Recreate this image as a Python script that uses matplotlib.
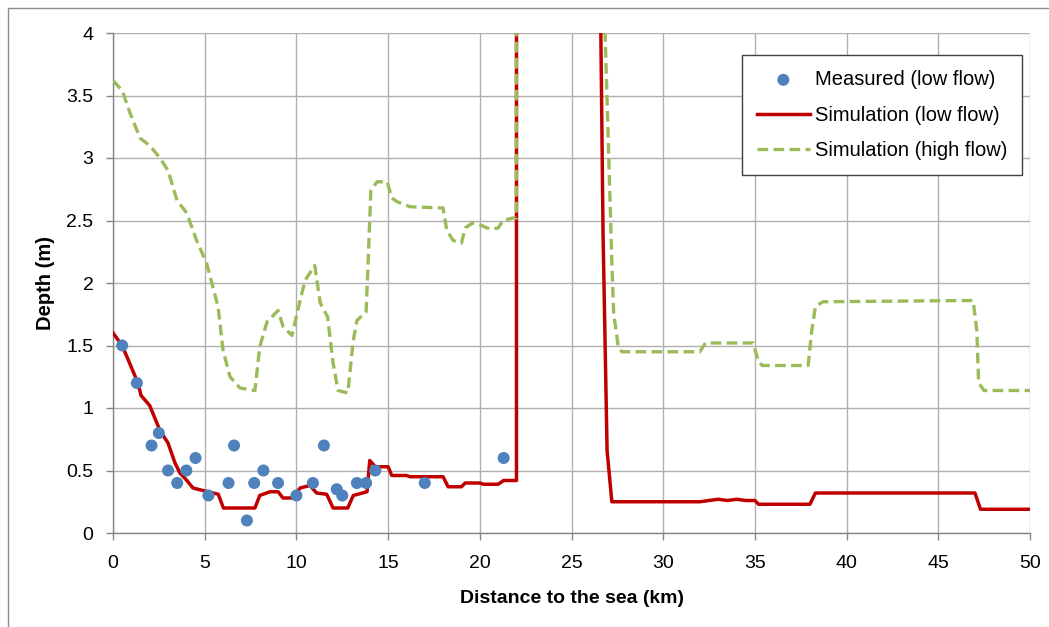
import matplotlib
matplotlib.use("Agg")
import matplotlib.pyplot as plt
from matplotlib.patches import Rectangle

# Measured (low flow)
meas_x = [0.5, 1.3, 2.1, 2.5, 3.0, 3.5, 4.0, 4.5, 5.2, 6.3, 6.6, 7.3, 7.7, 8.2, 9.0,
          10.0, 10.9, 11.5, 12.2, 12.5, 13.3, 13.8, 14.3, 17.0, 21.3]
meas_y = [1.5, 1.2, 0.7, 0.8, 0.5, 0.4, 0.5, 0.6, 0.3, 0.4, 0.7, 0.1, 0.4, 0.5, 0.4,
          0.3, 0.4, 0.7, 0.35, 0.3, 0.4, 0.4, 0.5, 0.4, 0.6]

# Simulation (low flow)
low_x = [0, 0.5, 1.36, 1.53, 2.0, 2.56, 3.0, 3.38, 3.65, 4.03, 4.36, 4.9, 5.74, 6.02,
         7.74, 8.0, 8.56, 9.0, 9.27, 9.8, 10.2, 10.74, 11.1, 11.65, 12.0, 12.8, 13.1,
         13.85, 14.0, 14.3, 15.0, 15.2, 16.0, 16.2, 18.0, 18.27, 19.0, 19.2, 20.0, 20.2,
         21.0, 21.3, 22.0, 22.0, 26.5, 26.6, 26.72, 26.94, 27.2, 32.0, 32.5, 33.0, 33.5,
         34.0, 34.5, 35.0, 35.2, 38.0, 38.3, 47.0, 47.3, 50.0]
low_y = [1.6, 1.5, 1.2, 1.1, 1.02, 0.82, 0.72, 0.56, 0.48, 0.42, 0.36, 0.34, 0.31, 0.2,
         0.2, 0.3, 0.33, 0.33, 0.28, 0.28, 0.36, 0.38, 0.32, 0.31, 0.2, 0.2, 0.3,
         0.33, 0.58, 0.53, 0.53, 0.46, 0.46, 0.45, 0.45, 0.37, 0.37, 0.4, 0.4, 0.39,
         0.39, 0.42, 0.42, 6.0, 6.0, 4.0, 2.4, 0.66, 0.25, 0.25, 0.26, 0.27, 0.26,
         0.27, 0.26, 0.26, 0.23, 0.23, 0.32, 0.32, 0.19, 0.19]

# Simulation (high flow)
high_x = [0, 0.5, 0.93, 1.47, 2.0, 2.56, 3.0, 3.49, 4.02, 4.56, 5.1, 5.73, 6.0, 6.38,
          6.92, 7.74, 8.0, 8.4, 9.0, 9.28, 9.76, 10.2, 10.47, 11.0, 11.3, 11.7, 12.0,
          12.27, 12.8, 13.1, 13.3, 13.8, 13.9, 14.06, 14.4, 14.95, 15.2, 15.5, 16.2,
          18.0, 18.2, 18.55, 19.0, 19.2, 19.6, 20.1, 20.56, 21.0, 21.27, 21.8, 22.0,
          22.0, 26.7, 26.83, 26.99, 27.2, 27.3, 27.55, 27.75, 32.0, 32.3, 34.9, 35.2,
          35.4, 37.9, 38.1, 38.3, 38.7, 46.9, 47.1, 47.2, 47.5, 50.0]
high_y = [3.62, 3.54, 3.36, 3.16, 3.1, 3.0, 2.9, 2.66, 2.56, 2.34, 2.16, 1.81, 1.46, 1.25,
          1.16, 1.14, 1.49, 1.69, 1.78, 1.65, 1.58, 1.86, 2.02, 2.14, 1.84, 1.73, 1.36,
          1.14, 1.12, 1.54, 1.70, 1.77, 2.13, 2.74, 2.81, 2.81, 2.68, 2.65, 2.61,
          2.6, 2.42, 2.34, 2.32, 2.44, 2.48, 2.46, 2.43, 2.44, 2.5, 2.52, 2.52,
          6.0, 6.0, 4.0, 3.22, 2.16, 1.76, 1.49, 1.45, 1.45, 1.52, 1.52, 1.37,
          1.34, 1.34, 1.62, 1.81, 1.85, 1.86, 1.62, 1.2, 1.14, 1.14]

x_ticks = [0, 5, 10, 15, 20, 25, 30, 35, 40, 45, 50]
y_ticks = [0, 0.5, 1, 1.5, 2, 2.5, 3, 3.5, 4]
y_tick_labels = ["0", "0.5", "1", "1.5", "2", "2.5", "3", "3.5", "4"]

plt.rcParams['font.family'] = ['Liberation Sans', 'DejaVu Sans']

fig = plt.figure(figsize=(10.49, 6.27), dpi=100)
ax = fig.add_axes([113/1049, 1 - 533/627, 917/1049, 500/627])

ax.plot(low_x, low_y, color='#C00000', lw=2.5, label='Simulation (low flow)', zorder=3)
ax.plot(high_x, high_y, color='#9BBB59', lw=2.4, linestyle=(0, (3.2, 1.6)),
        label='Simulation (high flow)', zorder=4)
ax.scatter(meas_x, meas_y, s=75, color='#4F81BD', edgecolors='none',
           label='Measured (low flow)', zorder=5)

ax.set_xlim(0, 50)
ax.set_ylim(0, 4)
ax.set_xticks(x_ticks)
ax.set_yticks(y_ticks)
ax.set_yticklabels(y_tick_labels)
ax.grid(True, color='#b0b0b0', lw=1)
ax.set_axisbelow(True)
for s in ['top', 'right']:
    ax.spines[s].set_visible(False)
for s in ['left', 'bottom']:
    ax.spines[s].set_color('#868686')
    ax.spines[s].set_linewidth(1)
ax.tick_params(axis='both', direction='out', length=5, width=1, color='#868686',
               labelsize=14, labelcolor='black')
ax.tick_params(axis='x', pad=11)
ax.tick_params(axis='y', pad=9)

ax.set_xlabel('Distance to the sea (km)', fontsize=14, fontweight='bold', labelpad=13)
ax.set_ylabel('Depth (m)', fontsize=14.5, fontweight='bold', labelpad=8)

handles, labels = ax.get_legend_handles_labels()
order = [2, 0, 1]
leg = ax.legend([handles[i] for i in order], [labels[i] for i in order],
                loc='upper right', bbox_to_anchor=(0.9913, 0.956), borderaxespad=0,
                fontsize=14.5, frameon=True, fancybox=False, edgecolor='#404040',
                framealpha=1, handlelength=2.6, handletextpad=0.25, labelspacing=0.82,
                borderpad=0.75)
leg.get_frame().set_linewidth(1)

fig.patches.append(Rectangle((8/1049, -0.1), 1.2, 1 - 8/627 + 0.1, transform=fig.transFigure,
                             fill=False, edgecolor='#8c8c8c', lw=1))

fig.savefig('out.png', dpi=100)
